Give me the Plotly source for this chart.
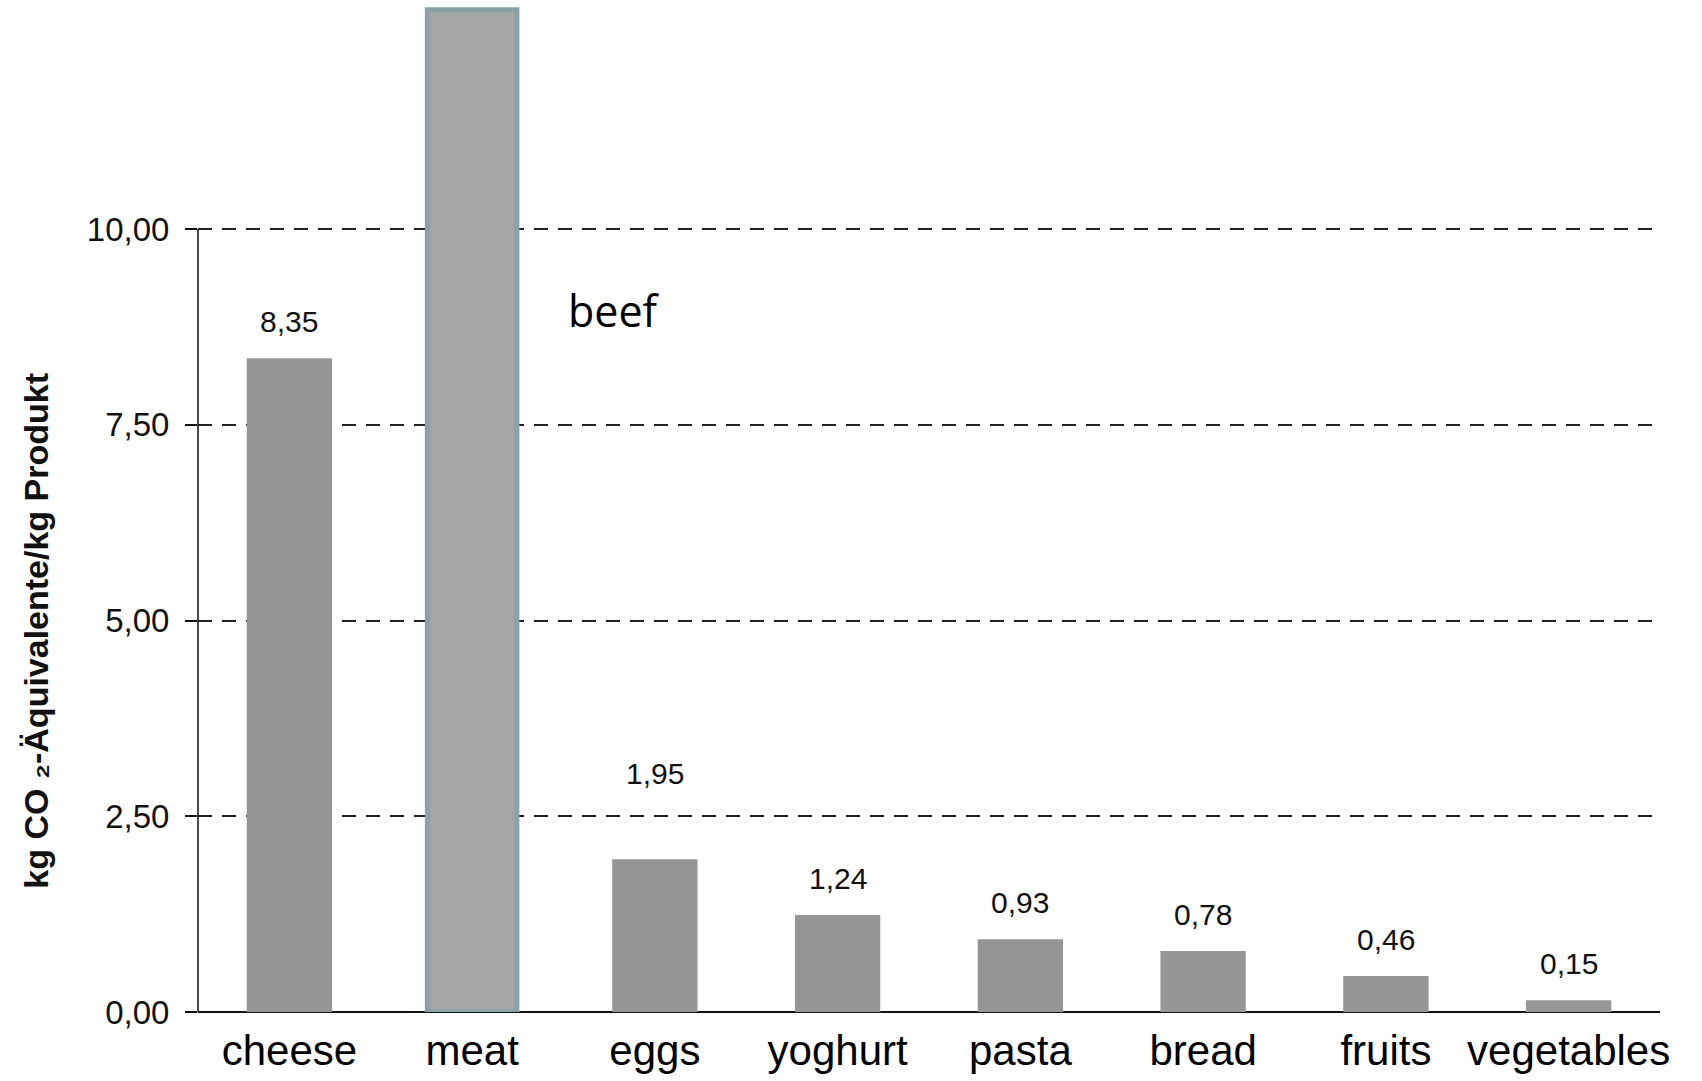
import plotly.graph_objects as go

# Greenhouse-gas footprint per kg of food product
categories = ["cheese", "meat", "eggs", "yoghurt", "pasta", "bread", "fruits", "vegetables"]
values = [8.35, 12.8, 1.95, 1.24, 0.93, 0.78, 0.46, 0.15]
labelled = [True, False, True, True, True, True, True, True]
y_ticks = [0, 2.5, 5, 7.5, 10]

# styling per bar (the meat bar is highlighted)
bar_widths = [0.467, 0.49, 0.467, 0.467, 0.467, 0.467, 0.467, 0.467]
bar_fills = ["#969696", "#a5a5a5", "#969696", "#969696", "#969696", "#969696", "#969696", "#969696"]
bar_edges = ["#969696", "#8aa2a5", "#969696", "#969696", "#969696", "#969696", "#969696", "#969696"]
bar_edge_widths = [0, 5, 0, 0, 0, 0, 0, 0]
label_lift = [18, 0, 67, 18, 18, 18, 18, 18]

FONT = "Liberation Sans, Arial, sans-serif"

fig = go.Figure(
    go.Bar(
        x=categories,
        y=values,
        width=bar_widths,
        marker=dict(color=bar_fills, line=dict(color=bar_edges, width=bar_edge_widths)),
        hoverinfo="x+y",
    )
)

# value labels above the bars
for cat, val, show, lift in zip(categories, values, labelled, label_lift):
    if not show:
        continue
    fig.add_annotation(
        x=cat, y=val, xref="x", yref="y",
        text=f"{val:.2f}".replace(".", ","),
        showarrow=False, yanchor="bottom", yshift=lift,
        font=dict(family=FONT, size=30, color="#111111"),
    )

# "beef" note next to the meat bar
fig.add_annotation(
    x=0.2517, y=0.696, xref="paper", yref="paper",
    text="beef", showarrow=False, xanchor="left", yanchor="middle",
    font=dict(family="Open Sans, sans-serif", size=43, color="#000000"),
)

# vertical axis title
fig.add_annotation(
    x=-0.111, y=0.378, xref="paper", yref="paper",
    text="<b>kg CO ₂-Äquivalente/kg Produkt</b>", textangle=-90,
    showarrow=False, xanchor="center", yanchor="middle",
    font=dict(family=FONT, size=34, color="#111111"),
)

# y axis line only spans the labelled range
fig.add_shape(
    type="line", xref="paper", yref="y", x0=0, x1=0, y0=0, y1=max(y_ticks),
    line=dict(color="#111111", width=1.5), layer="above",
)

fig.update_layout(
    width=1702, height=1081,
    margin=dict(l=198, r=42, t=4, b=69),
    paper_bgcolor="white", plot_bgcolor="white",
    separators=",.",
    showlegend=False,
    bargap=0.5,
    xaxis=dict(
        type="category", range=[-0.5, len(categories) - 0.5],
        showline=False, showgrid=False, zeroline=False, ticks="",
        tickfont=dict(family=FONT, size=42, color="#000000"),
        ticklabelstandoff=10, automargin=False,
    ),
    yaxis=dict(
        range=[0, 12.875], tickvals=y_ticks, tickformat=".2f",
        showline=False, zeroline=True, zerolinecolor="#111111", zerolinewidth=2,
        showgrid=True, gridcolor="#222222", gridwidth=1.5, griddash="14px,10px",
        ticks="outside", ticklen=12, tickwidth=1.5, tickcolor="#111111",
        tickfont=dict(family=FONT, size=33, color="#111111"),
        ticklabelstandoff=9, automargin=False,
    ),
)

fig.write_html("out.html")
